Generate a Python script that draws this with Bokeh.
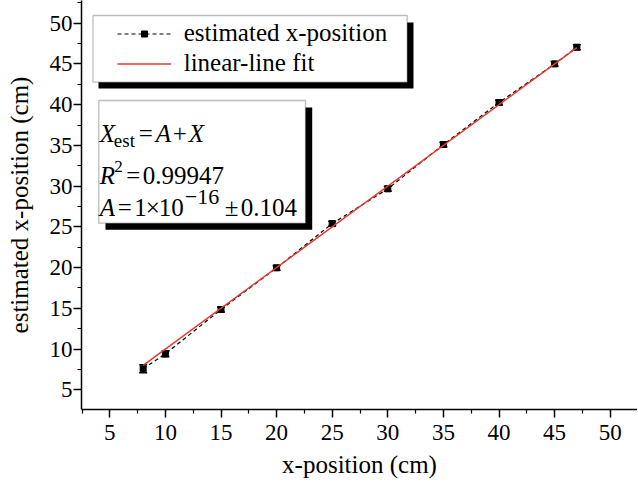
from bokeh.plotting import figure
from bokeh.models import (ColumnDataSource, Whisker, TeeHead, BoxAnnotation, Label,
                          Legend, LegendItem, FixedTicker)
from bokeh.embed import file_html
from bokeh.resources import INLINE

# ---------------- data ----------------
x_position = [8, 10, 15, 20, 25, 30, 35, 40, 45, 47]
estimated = [7.58, 9.42, 14.86, 19.97, 25.40, 29.67, 35.10, 40.26, 45.00, 47.05]
errors = [0.50, 0.35, 0.30, 0.30, 0.30, 0.30, 0.30, 0.30, 0.30, 0.30]
fit_A = 1e-16
x_ticks = [5, 10, 15, 20, 25, 30, 35, 40, 45, 50]
x_minor = [2.5, 7.5, 12.5, 17.5, 22.5, 27.5, 32.5, 37.5, 42.5, 47.5, 52.5]
y_ticks = [5, 10, 15, 20, 25, 30, 35, 40, 45, 50]
y_minor = [2.5, 7.5, 12.5, 17.5, 22.5, 27.5, 32.5, 37.5, 42.5, 47.5, 52.5]

FONT = "Liberation Serif"

# ---------------- layout (frame in page pixels, ranges) ----------------
W, H = 637, 482
FR_L, FR_R, FR_T, FR_B = 81, 637, 0, 409

def calx(px):
    return 5 + (px - 109.3) / 11.12

def caly(py):
    return 5 + (389.3 - py) / 8.147

XR = (calx(FR_L), calx(FR_R))
YR = (caly(FR_B), caly(FR_T))

src = ColumnDataSource(dict(
    x=x_position, y=estimated,
    lo=[v - e for v, e in zip(estimated, errors)],
    hi=[v + e for v, e in zip(estimated, errors)],
))
fit_x = [min(x_position), max(x_position)]
fit_y = [fit_A + v for v in fit_x]

p = figure(width=W, height=H, x_range=XR, y_range=YR,
           output_backend="svg", toolbar_location=None,
           min_border_left=FR_L, min_border_right=W - FR_R, min_border_top=FR_T,
           min_border_bottom=H - FR_B)
p.outline_line_color = None
p.xgrid.visible = False
p.ygrid.visible = False
p.background_fill_color = "white"

for ax, ticks, minor in ((p.xaxis[0], x_ticks, x_minor), (p.yaxis[0], y_ticks, y_minor)):
    ax.ticker = FixedTicker(ticks=ticks, minor_ticks=minor)
    ax.axis_line_width = 1.5
    ax.axis_line_color = "black"
    ax.major_tick_in = 0
    ax.major_tick_out = 8
    ax.minor_tick_in = 0
    ax.minor_tick_out = 4
    ax.major_tick_line_width = 1.5
    ax.minor_tick_line_width = 1.2
    ax.major_tick_line_color = "black"
    ax.minor_tick_line_color = "black"
    ax.major_label_text_font = FONT
    ax.major_label_text_font_size = "23px"
    ax.major_label_text_color = "black"
    ax.axis_label_text_font = FONT
    ax.axis_label_text_font_size = "25px"
    ax.axis_label_text_font_style = "normal"
    ax.axis_label_text_color = "black"

p.xaxis.axis_label = "x-position (cm)"
p.yaxis.axis_label = "estimated x-position (cm)"
p.xaxis.major_label_standoff = 7
p.xaxis.axis_label_standoff = 8
p.yaxis.major_label_standoff = 1
p.yaxis.axis_label_standoff = 14

# ---------------- data marks ----------------
dash_r = p.line("x", "y", source=src, line_color="black", line_width=1.2, line_dash="4 3")
whisk = Whisker(source=src, base="x", upper="hi", lower="lo", line_color="black", line_width=1.5,
                upper_head=TeeHead(size=8, line_color="black", line_width=1.5),
                lower_head=TeeHead(size=8, line_color="black", line_width=1.5))
p.add_layout(whisk)
sq_r = p.scatter("x", "y", source=src, marker="square", size=6, fill_color="black", line_color="black")
fit_r = p.line(fit_x, fit_y, line_color="#e8392f", line_width=1.5)

# ---------------- legend box with shadow ----------------
p.add_layout(BoxAnnotation(left=calx(98), right=calx(413), top=caly(22), bottom=caly(88),
                           fill_color="black", fill_alpha=1, line_alpha=0))
p.add_layout(BoxAnnotation(left=calx(92.5), right=calx(406.7), top=caly(15), bottom=caly(81.7),
                           fill_color="white", fill_alpha=1, line_color="#222222", line_width=1.3))

legend = Legend(items=[LegendItem(label="estimated x-position", renderers=[dash_r, sq_r]),
                       LegendItem(label="linear-line fit", renderers=[fit_r])],
                location=(113.7 - FR_L, FR_B - 81), glyph_width=54, glyph_height=15, label_height=30,
                spacing=0, padding=3, margin=0, label_standoff=13,
                label_text_font=FONT, label_text_font_size="25px", label_text_color="black",
                border_line_alpha=0, background_fill_alpha=0)
p.add_layout(legend)

# ---------------- formula box with shadow ----------------
p.add_layout(BoxAnnotation(left=calx(105), right=calx(311.7), top=caly(107), bottom=caly(229.3),
                           fill_color="black", fill_alpha=1, line_alpha=0))
p.add_layout(BoxAnnotation(left=calx(98.3), right=calx(305), top=caly(100), bottom=caly(222.7),
                           fill_color="white", fill_alpha=1, line_color="#222222", line_width=1.3))

BX = calx(98.3)
def piece(py, text, off, up=0, size=25, style="normal"):
    p.add_layout(Label(x=BX, y=caly(py), text=text, x_offset=off, y_offset=up,
                       text_font=FONT, text_font_size=f"{size}px", text_font_style=style,
                       text_color="black", text_align="left", text_baseline="alphabetic"))

L1, L2, L3 = 133.3, 175, 206.7
piece(L1, "X", 1, style="italic")
piece(L1, "est", 15, up=-7, size=19)
piece(L1, "=", 40)
piece(L1, "A", 57, style="italic")
piece(L1, "+", 74)
piece(L1, "X", 90, style="italic")

piece(L2, "R", 1, style="italic")
piece(L2, "2", 15.5, up=9, size=17)
piece(L2, "=", 27.5)
piece(L2, "0.99947", 44)

piece(L3, "A", 1, style="italic")
piece(L3, "=", 19)
piece(L3, "1", 35.5)
piece(L3, "\u00d7", 47)
piece(L3, "10", 60)
piece(L3, "\u221216", 86, up=10, size=22)
piece(L3, "\u00b1", 126)
piece(L3, "0.104", 142)

open("out.html", "w").write(file_html(p, INLINE))
